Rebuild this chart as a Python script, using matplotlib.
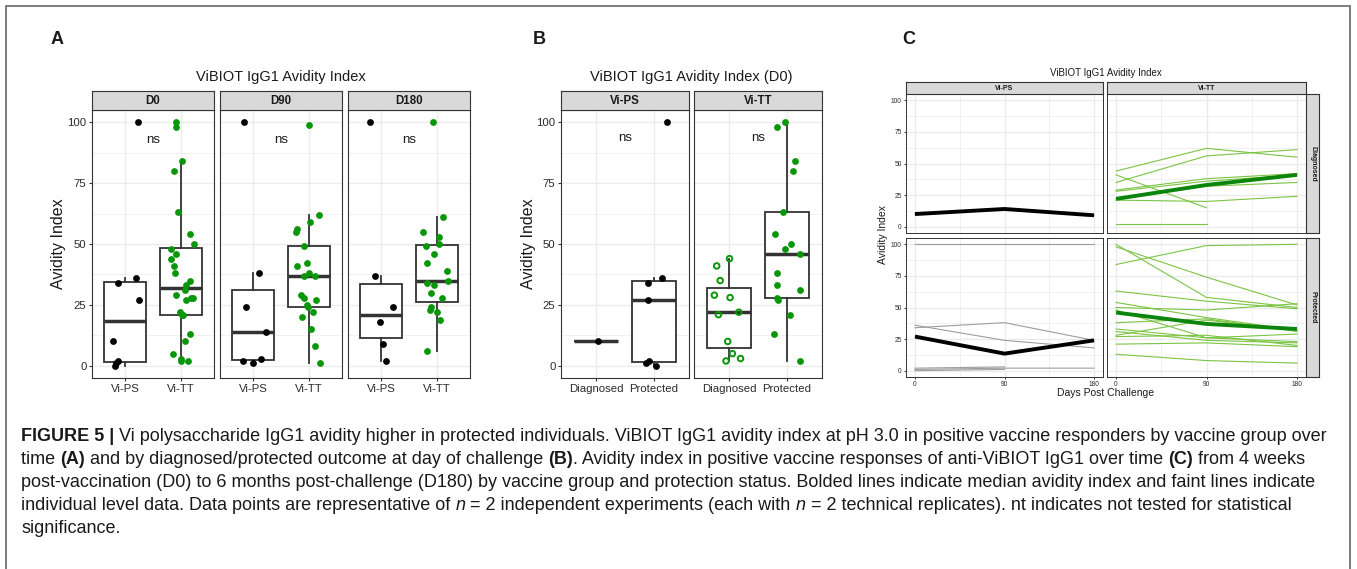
import numpy as np
import matplotlib
matplotlib.use("Agg")
import matplotlib.pyplot as plt
from matplotlib import font_manager as fm
from matplotlib.patches import Rectangle
from matplotlib.ticker import FixedLocator

# ---------------- data ----------------
# Panel A: avidity index by vaccine group over time
a_d0_ps = [0, 1, 2, 10, 27, 34, 36, 100]
a_d0_tt = [2, 2, 3, 5, 10, 13, 21, 21, 22, 27, 28, 28, 29, 31, 33, 35, 38, 41,
           44, 46, 48, 50, 54, 63, 80, 84, 98, 100]
a_d90_ps = [1, 2, 3, 14, 24, 38, 100]
a_d90_tt = [1, 8, 15, 20, 22, 24, 25, 27, 28, 29, 37, 37, 38, 41, 42, 49, 55,
            56, 59, 62, 99]
a_d180_ps = [2, 9, 18, 24, 37, 100]
a_d180_tt = [6, 19, 22, 23, 24, 28, 30, 33, 34, 35, 39, 42, 46, 49, 50, 53, 55,
             61, 100]
a_panels = ["D0", "D90", "D180"]
a_groups = ["Vi-PS", "Vi-TT"]

# Panel B: D0 by outcome
b_ps_diag = [10]
b_ps_prot = [0, 1, 2, 27, 34, 36, 100]
b_tt_diag = [2, 3, 5, 10, 21, 22, 28, 29, 35, 41, 44]
b_tt_prot = [2, 13, 21, 27, 28, 31, 33, 38, 46, 48, 50, 54, 63, 80, 84, 98, 100]
b_panels = ["Vi-PS", "Vi-TT"]
b_groups = ["Diagnosed", "Protected"]

# Panel C: trajectories
days = [0, 90, 180]
c_ps_diag_indiv = [[10, 14, 9]]
c_ps_diag_median = [10, 14, 9]
c_ps_prot_indiv = [[100, 100, 100], [34, 38, 24], [36, 24, 18],
                   [0, 1, np.nan], [1, 2, 2], [2, 3, np.nan]]
c_ps_prot_median = [27, 13.5, 24]
c_tt_diag_indiv = [[44, 62, 55], [35, 56, 61], [41, 15, np.nan], [29, 38, 42],
                   [28, 36, 41], [22, 32, 35], [21, 20, 24], [2, 2, np.nan]]
c_tt_diag_median = [22, 33, 41]
c_tt_prot_indiv = [[100, 58, 50], [98, 74, 52], [84, 99, 100], [63, 55, 49],
                   [54, 42, 32], [50, 48, 53], [48, 26, 23], [38, 41, 31],
                   [33, 26, 29], [31, 24, 22], [28, 40, 32], [27, 28, 20],
                   [21, 22, 19], [13, 8, 6]]
c_tt_prot_median = [46, 37, 33]
c_cols = ["Vi-PS", "Vi-TT"]
c_rows = ["Diagnosed", "Protected"]

# horizontal jitter offsets (category units)
jit_a_d0_ps = [-0.19, -0.16, -0.13, -0.22, 0.24, -0.13, 0.20, 0.23]
jit_a_d0_tt = [0.01, 0.13, 0.0, -0.14, 0.07, 0.17, 0.04, 0.02, -0.02, 0.09, 0.19,
               0.22, -0.09, 0.08, 0.10, 0.16, -0.11, -0.13, -0.18, -0.08, -0.17,
               0.24, 0.16, -0.05, -0.13, 0.03, -0.08, -0.08]
jit_a_d90_ps = [0.0, -0.19, 0.14, 0.23, -0.14, 0.11, -0.17]
jit_a_d90_tt = [0.20, 0.11, 0.04, -0.13, 0.08, -0.02, -0.03, 0.14, -0.08, -0.14,
                -0.08, 0.11, 0.01, -0.22, -0.04, -0.08, -0.23, -0.21, 0.03, 0.18, 0.0]
jit_a_d180_ps = [0.08, 0.04, -0.02, 0.21, -0.11, -0.21]
jit_a_d180_tt = [-0.17, 0.05, 0.0, -0.12, -0.11, 0.09, -0.10, -0.05, -0.17, 0.20,
                 0.18, -0.17, -0.05, -0.20, 0.04, 0.04, -0.25, 0.11, -0.06]
jit_b_ps_diag = [0.03]
jit_b_ps_prot = [0.04, -0.14, -0.09, -0.10, -0.11, 0.14, 0.22]
jit_b_tt_diag = [-0.05, 0.20, 0.06, -0.02, -0.18, 0.17, 0.02, -0.25, -0.15, -0.21, 0.01]
jit_b_tt_prot = [0.23, -0.22, 0.05, -0.16, -0.17, 0.23, -0.18, -0.17, 0.22, -0.04,
                 0.06, -0.20, -0.07, 0.10, 0.14, -0.17, -0.03]

caption_lines = [
    [("FIGURE 5 |", True, False),
     (" Vi polysaccharide IgG1 avidity higher in protected individuals. ViBIOT IgG1 avidity index at pH 3.0 in positive vaccine responders by vaccine group over", False, False)],
    [("time ", False, False), ("(A)", True, False),
     (" and by diagnosed/protected outcome at day of challenge ", False, False), ("(B)", True, False),
     (". Avidity index in positive vaccine responses of anti-ViBIOT IgG1 over time ", False, False),
     ("(C)", True, False), (" from 4 weeks", False, False)],
    [("post-vaccination (D0) to 6 months post-challenge (D180) by vaccine group and protection status. Bolded lines indicate median avidity index and faint lines indicate", False, False)],
    [("individual level data. Data points are representative of ", False, False), ("n", False, True),
     (" = 2 independent experiments (each with ", False, False), ("n", False, True),
     (" = 2 technical replicates). nt indicates not tested for statistical", False, False)],
    [("significance.", False, False)],
]

# ---------------- setup ----------------
W, H = 1357, 569
fig = plt.figure(figsize=(W / 100, H / 100), dpi=100)
fig.patch.set_facecolor("white")
names = {f.name for f in fm.fontManager.ttflist}
BASE = "Liberation Sans" if "Liberation Sans" in names else "DejaVu Sans"
NARROW = "Liberation Sans Narrow" if "Liberation Sans Narrow" in names else BASE
plt.rcParams["font.family"] = [BASE, "DejaVu Sans"]

DARK = "#333333"
GRID = "#EBEBEB"
GREEN = "#0A960A"
LGREEN = "#7CC444"
MGREEN = "#0B850B"
TXT = "#1A1A1A"


def ax_px(x0, y0, x1, y1):
    return fig.add_axes([x0 / W, 1 - y1 / H, (x1 - x0) / W, (y1 - y0) / H])


def style(ax, tick_fs, show_y, show_x=True, lw=0.8, tl=2.5):
    for s in ax.spines.values():
        s.set_color(DARK)
        s.set_linewidth(lw)
    ax.yaxis.set_major_locator(FixedLocator([0, 25, 50, 75, 100]))
    ax.yaxis.set_minor_locator(FixedLocator([12.5, 37.5, 62.5, 87.5]))
    ax.grid(which="major", color=GRID, lw=1.0)
    ax.grid(which="minor", color=GRID, lw=0.5)
    ax.set_axisbelow(True)
    ax.tick_params(which="major", length=tl, width=lw, color=DARK,
                   labelsize=tick_fs, labelcolor="#2B2B2B", pad=1.5)
    ax.tick_params(which="minor", length=0)
    if not show_y:
        ax.tick_params(axis="y", left=False, labelleft=False)
    if not show_x:
        ax.tick_params(axis="x", bottom=False, labelbottom=False)


def strip(x0, y0, x1, y1, text, fs, rot=0):
    a = ax_px(x0, y0, x1, y1)
    a.set_facecolor("#D9D9D9")
    for s in a.spines.values():
        s.set_color(DARK)
        s.set_linewidth(0.8)
    a.set_xticks([])
    a.set_yticks([])
    a.text(0.5, 0.5, text, ha="center", va="center", fontsize=fs,
           fontweight="bold", color=TXT, rotation=rot, transform=a.transAxes)


def box_panel(ax, groups, jitters, colors, hollow):
    pos = [1, 2]
    ax.boxplot(groups, positions=pos, widths=0.75, whis=1.5, showfliers=False,
               patch_artist=True, showcaps=False,
               medianprops=dict(color=DARK, lw=2.5, solid_capstyle="butt"),
               boxprops=dict(facecolor="white", edgecolor=DARK, lw=1.3),
               whiskerprops=dict(color=DARK, lw=1.3), zorder=2)
    for p, vals, jit, col, hol in zip(pos, groups, jitters, colors, hollow):
        x = p + np.array(jit)
        if hol:
            ax.scatter(x, vals, s=16, facecolors="none", edgecolors=col,
                       linewidths=1.4, zorder=3)
        else:
            ax.scatter(x, vals, s=24, color=col, linewidths=0, zorder=3)
    ax.set_xlim(0.4, 2.6)
    ax.set_ylim(-5, 105)


# ---------------- Panel A ----------------
a_data = [(a_d0_ps, a_d0_tt, jit_a_d0_ps, jit_a_d0_tt),
          (a_d90_ps, a_d90_tt, jit_a_d90_ps, jit_a_d90_tt),
          (a_d180_ps, a_d180_tt, jit_a_d180_ps, jit_a_d180_tt)]
a_x = [(92, 214), (220, 342), (348, 470)]
for i, ((x0, x1), lab, (ps, tt, jps, jtt)) in enumerate(zip(a_x, a_panels, a_data)):
    ax = ax_px(x0, 110, x1, 378)
    box_panel(ax, [ps, tt], [jps, jtt], ["black", GREEN], [False, False])
    style(ax, 8.2, show_y=(i == 0))
    ax.set_xticks([1, 2])
    ax.set_xticklabels(a_groups)
    ax.text(1.5, 92.5, "ns", ha="center", va="center", fontsize=9.5, color=TXT)
    strip(x0, 91, x1, 110, lab, 8.3)
fig.text(281 / W, 1 - 77 / H, "ViBIOT IgG1 Avidity Index", ha="center",
         va="center", fontsize=10.5, color=TXT)
fig.text(58 / W, 1 - 244 / H, "Avidity Index", rotation=90, ha="center",
         va="center", fontsize=11.5, color=TXT)

# ---------------- Panel B ----------------
b_data = [([b_ps_diag, b_ps_prot], [jit_b_ps_diag, jit_b_ps_prot], ["black", "black"], [False, False]),
          ([b_tt_diag, b_tt_prot], [jit_b_tt_diag, jit_b_tt_prot], [GREEN, GREEN], [True, False])]
b_x = [(561, 689), (694, 822)]
for i, ((x0, x1), lab, (grp, jit, cols, hol)) in enumerate(zip(b_x, b_panels, b_data)):
    ax = ax_px(x0, 110, x1, 378)
    box_panel(ax, grp, jit, cols, hol)
    style(ax, 8.2, show_y=(i == 0))
    ax.set_xticks([1, 2])
    ax.set_xticklabels(b_groups)
    ax.text(1.5, 93.5, "ns", ha="center", va="center", fontsize=9.5, color=TXT)
    strip(x0, 91, x1, 110, lab, 8.3)
fig.text(691 / W, 1 - 77 / H, "ViBIOT IgG1 Avidity Index (D0)", ha="center",
         va="center", fontsize=10.5, color=TXT)
fig.text(528 / W, 1 - 244 / H, "Avidity Index", rotation=90, ha="center",
         va="center", fontsize=11.5, color=TXT)

# ---------------- Panel C ----------------
c_data = {
    (0, 0): (c_ps_diag_indiv, c_ps_diag_median, "#9E9E9E", "black"),
    (1, 0): (c_ps_prot_indiv, c_ps_prot_median, "#9E9E9E", "black"),
    (0, 1): (c_tt_diag_indiv, c_tt_diag_median, LGREEN, MGREEN),
    (1, 1): (c_tt_prot_indiv, c_tt_prot_median, LGREEN, MGREEN),
}
c_x = [(906, 1103), (1107, 1306)]
c_y = [(94, 233), (238, 377)]
for r, (y0, y1) in enumerate(c_y):
    for c, (x0, x1) in enumerate(c_x):
        ax = ax_px(x0, y0, x1, y1)
        indiv, med, lc, mc = c_data[(r, c)]
        for v in indiv:
            ax.plot(days, v, color=lc, lw=0.8, zorder=2)
        ax.plot(days, med, color=mc, lw=2.8, zorder=3, solid_capstyle="butt")
        ax.set_xlim(-9, 189)
        ax.set_ylim(-5, 105)
        ax.xaxis.set_major_locator(FixedLocator(days))
        ax.xaxis.set_minor_locator(FixedLocator([45, 135]))
        style(ax, 4.8, show_y=(c == 0), show_x=(r == 1), lw=0.7, tl=1.5)
for c, (x0, x1) in enumerate(c_x):
    strip(x0, 82, x1, 94, c_cols[c], 5)
for r, (y0, y1) in enumerate(c_y):
    strip(1306, y0, 1319, y1, c_rows[r], 5, rot=-90)
fig.text(1106 / W, 1 - 73 / H, "ViBIOT IgG1 Avidity Index", ha="center",
         va="center", fontsize=7, color=TXT)
fig.text(883 / W, 1 - 235 / H, "Avidity Index", rotation=90, ha="center",
         va="center", fontsize=7.5, color=TXT)
fig.text(1106 / W, 1 - 393 / H, "Days Post Challenge", ha="center",
         va="center", fontsize=7.5, color=TXT)

# ---------------- panel letters ----------------
for lab, x in zip(["A", "B", "C"], [57, 539, 909]):
    fig.text(x / W, 1 - 40 / H, lab, ha="center", va="center", fontsize=13,
             fontweight="bold", color=TXT)

# ---------------- border ----------------
fig.patches.append(Rectangle((6 / W, -0.05), (1350 - 6) / W, 1.05 - 6 / H,
                             transform=fig.transFigure, fill=False,
                             edgecolor="#666666", lw=1.2))

# ---------------- caption ----------------
renderer = fig.canvas.get_renderer()
CAPF = [NARROW, "DejaVu Sans"]


def text_w(s, **kw):
    t = fig.text(0, 0, "|" + s + "|", **kw)
    t0 = fig.text(0, 0, "||", **kw)
    w = t.get_window_extent(renderer).width - t0.get_window_extent(renderer).width
    t.remove()
    t0.remove()
    return w


def kws(fs, bold, ital):
    return dict(fontsize=fs, fontweight="bold" if bold else "normal",
                fontstyle="italic" if ital else "normal", family=CAPF, color=TXT)


def line_w(segs, fs):
    return sum(text_w(s, **kws(fs, b, it)) for s, b, it in segs)


fs0 = 10.0
w0 = line_w(caption_lines[0], fs0)
cap_fs = min(fs0 * 1306 / w0, 13.5)

for k, segs in enumerate(caption_lines):
    x = 21
    y = 441 + k * 23
    for s, b, it in segs:
        kw = kws(cap_fs, b, it)
        fig.text(x / W, 1 - y / H, s, ha="left", va="baseline", **kw)
        x += text_w(s, **kw)

fig.savefig("out.png", dpi=100, facecolor="white")
